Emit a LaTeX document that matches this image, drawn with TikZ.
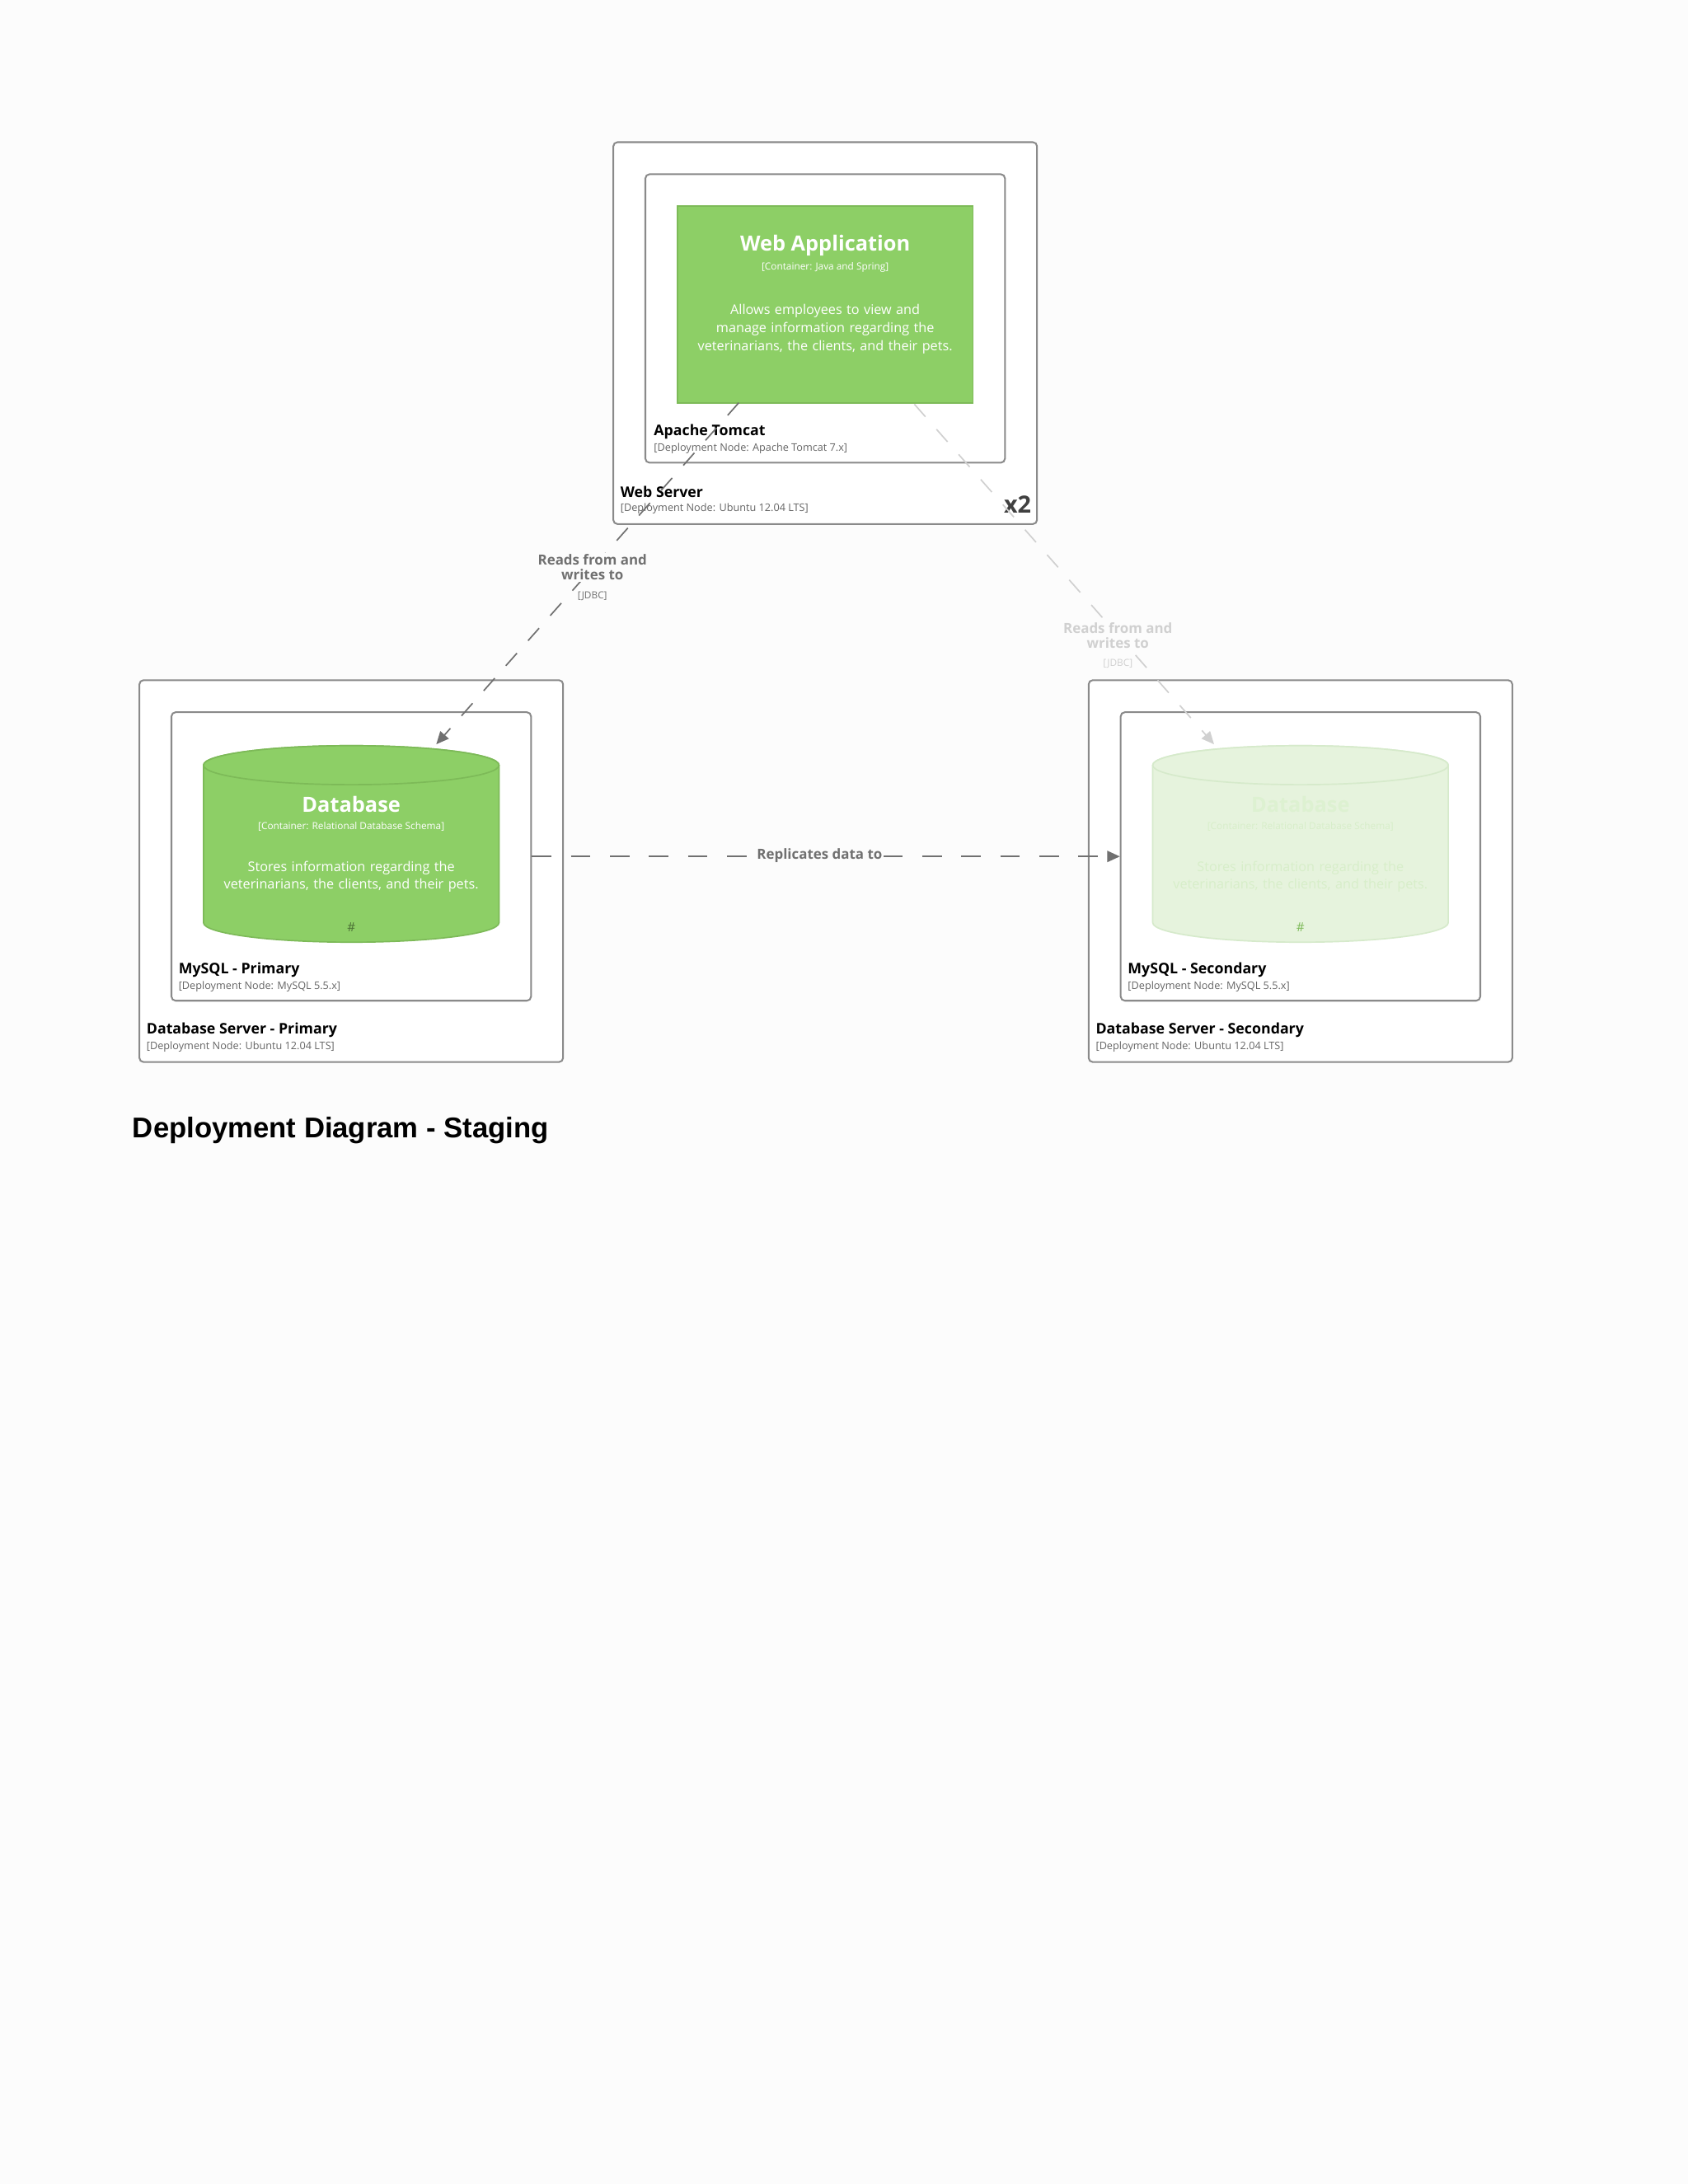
\documentclass[tikz,border=0pt]{standalone}
\usepackage{fontspec}
\setmainfont{Open Sans}
\newfontfamily\titlefont{Liberation Sans}
\usetikzlibrary{shapes.geometric,arrows.meta}
\definecolor{grn}{HTML}{8DCF66}
\definecolor{grnd}{HTML}{7DBA58}
\definecolor{fgrn}{HTML}{E6F3DD}
\definecolor{fgrnd}{HTML}{D6EACB}
\definecolor{bord}{HTML}{8A8A8A}
\definecolor{lab}{HTML}{707070}
\definecolor{flab}{HTML}{D0D0D0}
\tikzset{
  dnode/.style={draw=bord,line width=1.2pt,rounded corners=3pt,fill=white,inner sep=0},
  contbox/.style={draw=grnd,fill=grn,line width=1pt,inner sep=0},
  ttl/.style={font=\bfseries\fontsize{15}{17}\selectfont,text=white},
  ctech/.style={font=\fontsize{7}{8}\selectfont,text=white},
  cdesc/.style={font=\fontsize{9.6}{13}\selectfont,execute at begin node={\hyphenpenalty=10000\exhyphenpenalty=10000},text=white,align=center,text width=200pt},
  dname/.style={font=\bfseries\fontsize{10.5}{12}\selectfont,anchor=west,inner sep=0},
  dsub/.style={font=\fontsize{7.5}{9}\selectfont,anchor=west,inner sep=0,text=lab!90!black},
  rel/.style={draw=lab,line width=1pt,dash pattern=on 12pt off 12pt,-{Triangle[length=9pt,width=8pt]}},
  frel/.style={rel,draw=flab},
  rlab/.style={font=\bfseries\fontsize{10}{11}\selectfont,text=lab,align=center,fill=white!99!black,inner sep=1pt},
}
\newcommand{\dbcyl}[4]{% cx, top y, fill, draw
  \draw[fill=#3,draw=#4,line width=1pt] (#1-106,#2+14) -- (#1-106,#2+127)
    arc[x radius=106,y radius=14,start angle=180,end angle=0] -- (#1+106,#2+14)
    arc[x radius=106,y radius=14,start angle=0,end angle=-180] -- cycle;
  \draw[fill=#3,draw=#4,line width=1pt] (#1,#2+14) ellipse[x radius=106,y radius=14];
}
\begin{document}
\begin{tikzpicture}[x=1pt,y=-1pt]
\fill[white!99!black] (0,0) rectangle (1211,1567);
\useasboundingbox (0,0) rectangle (1211,1567);
% Web server
\node[dnode,minimum width=304pt,minimum height=274pt] (ws) at (592,239) {};
\node[dnode,minimum width=258pt,minimum height=207pt] (tc) at (592,228.5) {};
\node[contbox,minimum width=212pt,minimum height=141pt] (wa) at (592,218.5) {};
\node[ttl] (wat) at (592,176) {Web Application};
\node[ctech] (watc) at (592,192) {[Container: Java and Spring]};
\node[cdesc] (wad) at (592,236) {Allows employees to view and manage information regarding the veterinarians, the clients, and their pets.};
\node[dname] (tcn) at (469,310) {Apache Tomcat};
\node[dsub] (tcs) at (469,322) {[Deployment Node: Apache Tomcat 7.x]};
\node[dname] (wsn) at (445,353) {Web Server};
\node[dsub] (wss) at (445,365) {[Deployment Node: Ubuntu 12.04 LTS]};
\node[font=\bfseries\fontsize{17}{18}\selectfont,text=black!75,inner sep=0] (x2) at (730,362) {x2};
% Primary
\node[dnode,minimum width=304pt,minimum height=274pt] (dp) at (252,625) {};
\node[dnode,minimum width=258pt,minimum height=207pt] (mp) at (252,614.5) {};
\dbcyl{252}{535}{grn}{grnd}
\node[ttl] (cpt) at (252,577) {Database};
\node[ctech] (cpc) at (252,593) {[Container: Relational Database Schema]};
\node[cdesc] (cpd) at (252,629) {Stores information regarding the veterinarians, the clients, and their pets.};
\node[font=\fontsize{9}{10}\selectfont,text=grnd!60!black] (cph) at (252,665) {\#};
\node[dname] (mpn) at (128,696) {MySQL - Primary};
\node[dsub] (mps) at (128,708) {[Deployment Node: MySQL 5.5.x]};
\node[dname] (dpn) at (105,739) {Database Server - Primary};
\node[dsub] (dps) at (105,751) {[Deployment Node: Ubuntu 12.04 LTS]};
% Secondary
\node[dnode,minimum width=304pt,minimum height=274pt] (ds) at (933,625) {};
\node[dnode,minimum width=258pt,minimum height=207pt] (ms) at (933,614.5) {};
\dbcyl{933}{535}{fgrn}{fgrnd}
\node[ttl,text=white!70!grn] (cst) at (933,577) {Database};
\node[ctech,text=white!65!grn] (csc) at (933,593) {[Container: Relational Database Schema]};
\node[cdesc,text=white!65!grn] (csd) at (933,629) {Stores information regarding the veterinarians, the clients, and their pets.};
\node[font=\fontsize{9}{10}\selectfont,text=grnd] (csh) at (933,665) {\#};
\node[dname] (msn) at (809,696) {MySQL - Secondary};
\node[dsub] (mss) at (809,708) {[Deployment Node: MySQL 5.5.x]};
\node[dname] (dsn) at (786,739) {Database Server - Secondary};
\node[dsub] (dss) at (786,751) {[Deployment Node: Ubuntu 12.04 LTS]};
% relationships
\coordinate (a1s) at (530,289);
\coordinate (a1e) at (313,534);
\draw[rel] (a1s) -- (a1e);
\node[rlab] (l1) at (425,407) {Reads from and\\writes to};
\node[font=\fontsize{7}{8}\selectfont,text=lab,fill=white!99!black,inner sep=1pt] (l1b) at (425,428) {[JDBC]};
\coordinate (a2s) at (656,290);
\coordinate (a2e) at (871,534);
\draw[frel] (a2s) -- (a2e);
\node[rlab,text=flab] (l2) at (802,456) {Reads from and\\writes to};
\node[font=\fontsize{7}{8}\selectfont,text=flab,fill=white!99!black,inner sep=1pt] (l2b) at (802,476) {[JDBC]};
\draw[rel,dash pattern=on 14pt off 14pt] (mp.east) -- (ms.west);
\node[rlab] (l3) at (588,614) {Replicates data to};
% title
\node[font=\titlefont\bfseries\fontsize{20.5}{22}\selectfont,anchor=west,inner sep=0] (title) at (95,811) {Deployment Diagram - Staging};
\end{tikzpicture}
\end{document}
